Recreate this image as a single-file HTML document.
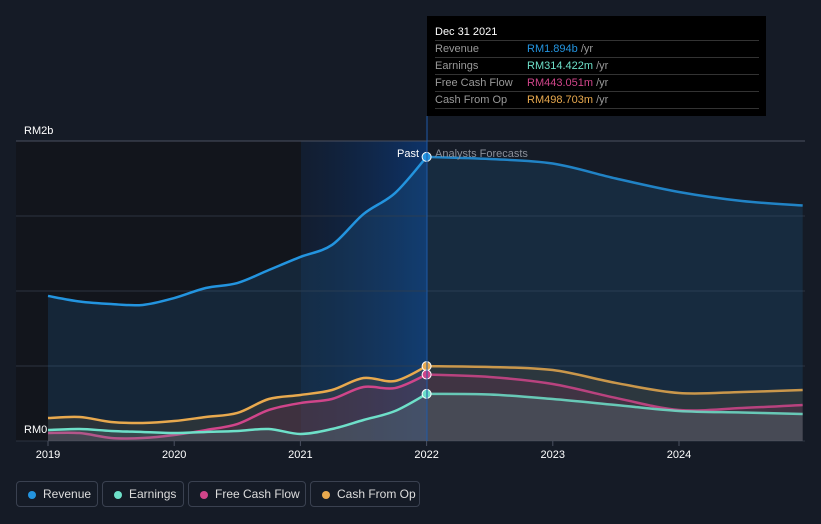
<!DOCTYPE html>
<html><head><meta charset="utf-8"><style>
body{margin:0;background:#151b26;width:821px;height:524px;overflow:hidden;font-family:"Liberation Sans",sans-serif}
svg{position:absolute;left:0;top:0}
.tip{position:absolute;left:427px;top:16px;width:339px;height:100px;background:#000;color:#fff;font-size:11px}
.tip .h{position:absolute;left:8px;top:10px;font-size:11px}
.tip .r{position:absolute;left:8px;width:324px;border-top:1px solid #333;height:16px;line-height:16px;color:#999}
.tip .r span{position:absolute;left:92px}
.leg{position:absolute;top:481px;height:26px;border:1px solid #3a4150;border-radius:4px;color:#ddd;font-size:12px;line-height:25px;padding:0 0 0 26px;box-sizing:border-box;white-space:nowrap}
.leg i{position:absolute;left:11px;top:9px;width:8px;height:8px;border-radius:50%}
</style></head><body>
<svg id="c" width="821" height="524"></svg>
<div class="tip">
<div class="h">Dec 31 2021</div>
<div class="r" style="top:24px">Revenue<span><b style="font-weight:normal;color:#2394df">RM1.894b</b> /yr</span></div>
<div class="r" style="top:41px">Earnings<span><b style="font-weight:normal;color:#6ee0c9">RM314.422m</b> /yr</span></div>
<div class="r" style="top:58px">Free Cash Flow<span><b style="font-weight:normal;color:#d0458a">RM443.051m</b> /yr</span></div>
<div class="r" style="top:75px;border-bottom:1px solid #333">Cash From Op<span><b style="font-weight:normal;color:#e8a94e">RM498.703m</b> /yr</span></div>
</div>
<div class="leg" style="left:16px;width:82px"><i style="background:#2394df"></i>Revenue</div>
<div class="leg" style="left:102px;width:82px"><i style="background:#6ee0c9"></i>Earnings</div>
<div class="leg" style="left:188px;width:118px"><i style="background:#d0458a"></i>Free Cash Flow</div>
<div class="leg" style="left:310px;width:110px"><i style="background:#e8a94e"></i>Cash From Op</div>
<script>
const years=[2019,2020,2021,2022,2023,2024];
const xPast=[2019,2019.25,2019.5,2019.75,2020,2020.25,2020.5,2020.75,2021,2021.25,2021.5,2021.75,2022];
const xFc=[2022,2022.5,2023,2023.5,2024,2024.5,2024.98];
const revPast=[0.967,0.93,0.913,0.907,0.953,1.02,1.053,1.14,1.227,1.307,1.513,1.653,1.894];
const revFc=[1.894,1.88,1.85,1.75,1.66,1.6,1.57];
const earnPast=[0.073,0.08,0.067,0.06,0.053,0.06,0.067,0.08,0.047,0.08,0.14,0.2,0.314];
const earnFc=[0.314,0.31,0.28,0.24,0.2,0.19,0.18];
const fcfPast=[0.053,0.053,0.02,0.02,0.04,0.073,0.113,0.207,0.253,0.28,0.36,0.353,0.443];
const fcfFc=[0.443,0.427,0.38,0.287,0.207,0.22,0.24];
const cfoPast=[0.153,0.16,0.127,0.12,0.133,0.16,0.187,0.28,0.307,0.34,0.42,0.4,0.499];
const cfoFc=[0.499,0.493,0.473,0.387,0.32,0.327,0.34];
const X=v=>48+(v-2019)*126.2, Y=v=>441-v*150;
const NS='http://www.w3.org/2000/svg',svg=document.getElementById('c');
function el(t,a,p){const e=document.createElementNS(NS,t);for(const k in a)e.setAttribute(k,a[k]);(p||svg).appendChild(e);return e}
const defs=el('defs',{});
const g=el('linearGradient',{id:'hl',x1:0,x2:1,y1:0,y2:0},defs);
el('stop',{offset:0,'stop-color':'#0c2448','stop-opacity':0.3},g);el('stop',{offset:1,'stop-color':'#0d3670','stop-opacity':0.9},g);
const bgPast=el('rect',{x:16,y:141,width:285,height:300,fill:'#12151c'});

const bgHl=el('rect',{x:301,y:141,width:126,height:300,fill:'url(#hl)'});

for(let i=0;i<=4;i++){const l=el('line',{x1:16,x2:805,y1:Y(i*0.5),y2:Y(i*0.5),stroke:i==4?'#4a5060':'#2c3340','stroke-width':1});
}
function path(xs,ys){const p=xs.map((x,i)=>[X(x),Y(ys[i])]);let d='M'+p[0];
for(let i=0;i<p.length-1;i++){const p0=p[i-1]||p[i],p1=p[i],p2=p[i+1],p3=p[i+2]||p2;
d+=`C${p1[0]+(p2[0]-p0[0])/6},${p1[1]+(p2[1]-p0[1])/6} ${p2[0]-(p3[0]-p1[0])/6},${p2[1]-(p3[1]-p1[1])/6} ${p2[0]},${p2[1]}`}return d}
const series=[['revenue',revPast,revFc,'#2394df','#1e5a8c'],['cash-from-op',cfoPast,cfoFc,'#e8a94e','#6a5a3a'],['free-cash-flow',fcfPast,fcfFc,'#d0458a','#7a2a55'],['earnings',earnPast,earnFc,'#6ee0c9','#5a8a8a']];
series.forEach(([n,pa,fc,col,fcol])=>{
[[xPast,pa,1],[xFc,fc,0.6]].forEach(([xs,ys,op])=>{
const d=path(xs,ys);
const a=el('path',{d:d+`L${X(xs[xs.length-1])},441L${X(xs[0])},441Z`,fill:fcol,'fill-opacity':0.25});

const l=el('path',{d,fill:'none',stroke:col,'stroke-width':2.5,'stroke-opacity':op==1?1:0.85});
});
const c=el('circle',{cx:X(2022),cy:Y(pa[pa.length-1]),r:4.5,fill:col,stroke:'#fff','stroke-width':1});
});
const vl=el('line',{x1:427,x2:427,y1:116,y2:441,stroke:'#1f5aa8','stroke-width':1});

function txt(x,y,s,a){const t=el('text',Object.assign({x,y,fill:'#fff','font-size':11,'font-family':'Liberation Sans, sans-serif'},a||{}));t.textContent=s;return t}
let t=txt(24,134,'RM2b');
t=txt(24,433,'RM0');
t=txt(419,157,'Past',{'text-anchor':'end'});
t=txt(435,157,'Analysts Forecasts',{fill:'#8a8f99'});
years.forEach(y=>{const tk=el('line',{x1:X(y),x2:X(y),y1:441,y2:446,stroke:'#4a5060'});

const tt=txt(X(y),458,String(y),{'text-anchor':'middle'});});
</script>
</body></html>
